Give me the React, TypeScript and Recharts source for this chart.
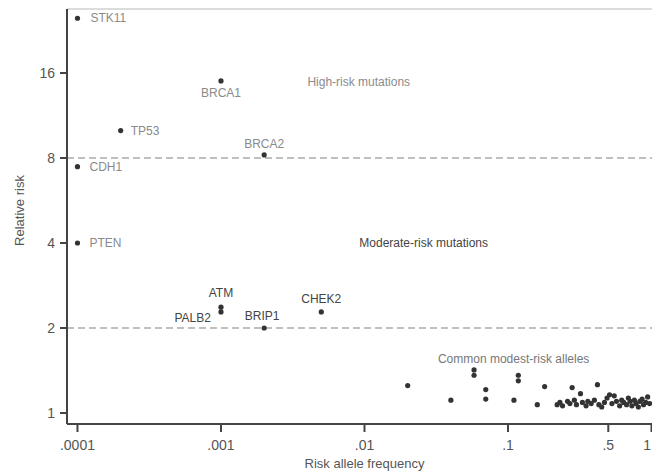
import React from 'react'
import {
  ScatterChart, Scatter, XAxis, YAxis, ReferenceLine,
} from 'recharts'

// genes with known rare risk variants
const geneNames = ['STK11', 'BRCA1', 'TP53', 'BRCA2', 'CDH1', 'PTEN', 'ATM', 'PALB2', 'BRIP1', 'CHEK2']
const geneFreq = [0.0001, 0.001, 0.0002, 0.002, 0.0001, 0.0001, 0.001, 0.001, 0.002, 0.005]
const geneRisk = [25, 15, 10, 8.2, 7.45, 4, 2.37, 2.28, 2.0, 2.28]
const highRisk = ['STK11', 'BRCA1', 'TP53', 'BRCA2', 'CDH1', 'PTEN']

// common low-penetrance alleles
const commonFreq = [
  0.02, 0.04, 0.058, 0.058, 0.07, 0.07, 0.118, 0.118, 0.11, 0.18, 0.28, 0.42, 0.16, 0.32, 0.51,
  0.22, 0.23, 0.24, 0.26, 0.27, 0.29, 0.3, 0.33, 0.35, 0.36, 0.38, 0.4, 0.43, 0.45, 0.47,
  0.49, 0.53, 0.55, 0.57, 0.6, 0.62, 0.64, 0.67, 0.69, 0.71, 0.73, 0.76, 0.78, 0.81, 0.83,
  0.86, 0.88, 0.91, 0.94, 0.97,
]
const commonRisk = [
  1.25, 1.11, 1.42, 1.36, 1.21, 1.12, 1.3, 1.36, 1.11, 1.24, 1.23, 1.26, 1.07, 1.17, 1.16,
  1.07, 1.09, 1.06, 1.1, 1.08, 1.11, 1.07, 1.09, 1.06, 1.1, 1.08, 1.11, 1.07, 1.05, 1.09,
  1.13, 1.08, 1.15, 1.1, 1.06, 1.11, 1.09, 1.07, 1.13, 1.1, 1.06, 1.11, 1.08, 1.05, 1.1,
  1.12, 1.07, 1.09, 1.14, 1.08,
]

const xTicks = [0.0001, 0.001, 0.01, 0.1, 0.5, 1]
const xTickLabels = ['.0001', '.001', '.01', '.1', '.5', '1']
const yTicks = [1, 2, 4, 8, 16]
const thresholds = [2, 8]

const zoneText = ['High-risk mutations', 'Moderate-risk mutations', 'Common modest-risk alleles']
const zoneFreq = [0.004, 0.0092, 0.0325]
const zoneRisk = [14.9, 4, 1.55]

const X_DOMAIN = [Math.pow(10, -4.073), Math.pow(10, 0.0035)]
const Y_DOMAIN = [0.914, 26.96]

const FONT = 'Liberation Sans, Arial, sans-serif'

// where each gene's name sits relative to its dot
const labelPlace: Record<string, { dx: number; dy: number; anchor: 'start' | 'middle' | 'end' }> = {
  STK11: { dx: 13, dy: 0, anchor: 'start' },
  BRCA1: { dx: 0, dy: 12, anchor: 'middle' },
  TP53: { dx: 10, dy: 0, anchor: 'start' },
  BRCA2: { dx: 0, dy: -11, anchor: 'middle' },
  CDH1: { dx: 12, dy: 0, anchor: 'start' },
  PTEN: { dx: 12, dy: 0, anchor: 'start' },
  ATM: { dx: 0, dy: -14, anchor: 'middle' },
  PALB2: { dx: -10, dy: 6, anchor: 'end' },
  BRIP1: { dx: -2, dy: -12, anchor: 'middle' },
  CHEK2: { dx: 0, dy: -13, anchor: 'middle' },
}

const genes = geneNames.map((name, i) => ({ name, x: geneFreq[i], y: geneRisk[i] }))
const common = commonFreq.map((x, i) => ({ x, y: commonRisk[i] }))
const zones = zoneText.map((text, i) => ({ text, x: zoneFreq[i], y: zoneRisk[i] }))

// eslint-disable-next-line @typescript-eslint/no-explicit-any
function GeneDot(props: any) {
  const { cx, cy, payload } = props
  const p = labelPlace[payload.name]
  const light = highRisk.includes(payload.name)
  return (
    <g>
      <circle cx={cx} cy={cy} r={2.6} fill="#333" />
      <text
        x={cx + p.dx}
        y={cy + p.dy}
        textAnchor={p.anchor}
        dominantBaseline="central"
        fontSize={12}
        fontFamily={FONT}
        fill={light ? '#8a8a8a' : '#444'}
      >
        {payload.name}
      </text>
    </g>
  )
}

// eslint-disable-next-line @typescript-eslint/no-explicit-any
function SmallDot({ cx, cy }: any) {
  return <circle cx={cx} cy={cy} r={2.6} fill="#333" />
}

const zoneColors = ['#8a8a8a', '#444', '#777']

// eslint-disable-next-line @typescript-eslint/no-explicit-any
function ZoneText({ cx, cy, payload, index }: any) {
  return (
    <text x={cx} y={cy} dominantBaseline="central" fontSize={12} fontFamily={FONT} fill={zoneColors[index]}>
      {payload.text}
    </text>
  )
}

// last label sits at the very edge, keep it inside
// eslint-disable-next-line @typescript-eslint/no-explicit-any
function XTick({ x, y, payload }: any) {
  const i = xTicks.indexOf(payload.value)
  const last = i === xTicks.length - 1
  return (
    <text
      x={last ? Math.min(x, 651) : x}
      y={y + 10}
      textAnchor={last ? 'end' : 'middle'}
      fontSize={14}
      fontFamily={FONT}
      fill="#555"
    >
      {xTickLabels[i]}
    </text>
  )
}

export default function App() {
  return (
    <div style={{ position: 'absolute', left: 0, top: 0, background: '#fff' }}>
      <ScatterChart width={652} height={473} margin={{ top: 9, right: 0, bottom: 0, left: 0 }}>
        <XAxis
          type="number"
          dataKey="x"
          scale="log"
          domain={X_DOMAIN}
          allowDataOverflow
          ticks={xTicks}
          height={49}
          interval={0}
          tickSize={8}
          tickMargin={8}
          tick={<XTick />}
          axisLine={{ stroke: '#444', strokeWidth: 2 }}
          tickLine={{ stroke: '#444', strokeWidth: 2 }}
          label={{
            value: 'Risk allele frequency',
            position: 'insideBottom',
            offset: 5,
            dx: 5,
            fill: '#555',
            fontSize: 13,
            fontFamily: FONT,
          }}
        />
        <YAxis
          type="number"
          dataKey="y"
          scale="log"
          domain={Y_DOMAIN}
          allowDataOverflow
          ticks={yTicks}
          width={67}
          interval={0}
          tickSize={7}
          tickMargin={5}
          tick={{ fill: '#555', fontSize: 14, fontFamily: FONT }}
          axisLine={{ stroke: '#444', strokeWidth: 2 }}
          tickLine={{ stroke: '#444', strokeWidth: 2 }}
          label={{
            // eslint-disable-next-line @typescript-eslint/no-explicit-any
            content: (p: any) => {
              const vb = p.viewBox
              const cy = vb.y + vb.height / 2 - 6
              return (
                <text
                  x={19}
                  y={cy}
                  transform={`rotate(-90, 19, ${cy})`}
                  textAnchor="middle"
                  dominantBaseline="central"
                  fontSize={13}
                  fontFamily={FONT}
                  fill="#555"
                >
                  Relative risk
                </text>
              )
            },
          }}
        />
        <ReferenceLine y={Y_DOMAIN[1]} stroke="#d0d0d0" strokeWidth={1.5} />
        {thresholds.map((t) => (
          <ReferenceLine key={t} y={t} stroke="#aaa" strokeWidth={1.5} strokeDasharray="7 4" />
        ))}
        <Scatter data={common} shape={<SmallDot />} isAnimationActive={false} />
        <Scatter data={genes} shape={<GeneDot />} isAnimationActive={false} />
        <Scatter data={zones} shape={<ZoneText />} isAnimationActive={false} />
      </ScatterChart>
    </div>
  )
}
